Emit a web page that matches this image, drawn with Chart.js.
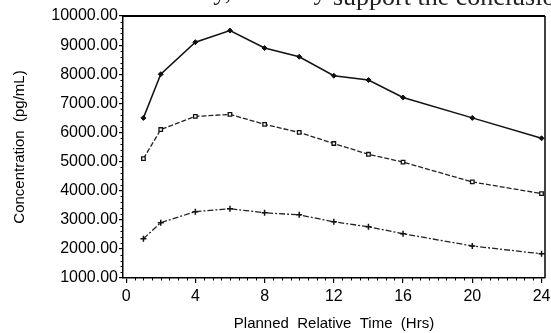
<!DOCTYPE html>
<html>
<head>
<meta charset="utf-8">
<script src="https://cdn.jsdelivr.net/npm/chart.js@4"></script>
<style>
  html, body { margin: 0; padding: 0; background: #fff; }
  #c { display: block; }
</style>
</head>
<body>
<canvas id="c" width="551" height="333"></canvas>
<script>
// ---- data ----
const timesHrs = [1, 2, 4, 6, 8, 10, 12, 14, 16, 20, 24];
const highSeries = [6500, 8000, 9100, 9500, 8900, 8600, 7950, 7800, 7200, 6500, 5800];
const midSeries  = [5100, 6100, 6550, 6620, 6280, 6000, 5620, 5250, 4980, 4300, 3900];
const lowSeries  = [2350, 2900, 3280, 3380, 3240, 3170, 2930, 2760, 2520, 2100, 1830];
const xTickValues = [0, 4, 8, 12, 16, 20, 24];
const yTickValues = [1000, 2000, 3000, 4000, 5000, 6000, 7000, 8000, 9000, 10000];
const xTitle = 'Planned  Relative  Time  (Hrs)';
const yTitle = 'Concentration  (pg/mL)';
const topTextLeft = 'Similarly, this may ';
const topTextRight = 'support the conclusion';

function pts(ys) { return timesHrs.map((t, i) => ({ x: t, y: ys[i] })); }

const FONT = '"Liberation Sans", Arial, Helvetica, sans-serif';

const framePlugin = {
  id: 'frame',
  beforeDraw(chart) {
    const ctx = chart.ctx;
    ctx.save();
    ctx.fillStyle = '#fff';
    ctx.fillRect(0, 0, chart.width, chart.height);
    ctx.fillStyle = '#222';
    ctx.textBaseline = 'alphabetic';
    ctx.font = '26px "Liberation Serif", "Times New Roman", serif';
    ctx.textAlign = 'right';
    ctx.fillText(topTextLeft, 333, 0);
    ctx.textAlign = 'left';
    ctx.fillText(topTextRight, 333, 5);
    ctx.restore();
  },
  afterDraw(chart) {
    const ctx = chart.ctx;
    const a = chart.chartArea;
    const xs = chart.scales.x, ys = chart.scales.y;
    ctx.save();
    ctx.strokeStyle = '#000';
    // top and right frame
    ctx.lineWidth = 2;
    ctx.beginPath();
    ctx.moveTo(a.left, a.top);
    ctx.lineTo(a.right, a.top);
    ctx.stroke();
    ctx.lineWidth = 1.5;
    ctx.beginPath();
    ctx.moveTo(a.right, a.top);
    ctx.lineTo(a.right, a.bottom);
    ctx.stroke();
    // minor ticks
    ctx.lineWidth = 1;
    ctx.beginPath();
    for (let v = 1000; v <= 10000; v += 200) {
      if (v % 1000 === 0) continue;
      const py = Math.round(ys.getPixelForValue(v)) + 0.5;
      ctx.moveTo(a.left - 2.5, py);
      ctx.lineTo(a.left, py);
    }
    for (let v = 0; v <= 24; v += 0.5) {
      if (v % 4 === 0) continue;
      const px = Math.round(xs.getPixelForValue(v)) + 0.5;
      ctx.moveTo(px, a.bottom);
      ctx.lineTo(px, a.bottom + 2.5);
    }
    ctx.stroke();
    ctx.restore();
  }
};

new Chart(document.getElementById('c'), {
  type: 'line',
  data: {
    datasets: [
      {
        data: pts(highSeries),
        borderColor: '#111', borderWidth: 1.5,
        pointStyle: 'rectRot', pointRadius: 2.5,
        pointBackgroundColor: '#111', pointBorderColor: '#111', pointBorderWidth: 1,
        tension: 0, fill: false
      },
      {
        data: pts(midSeries),
        borderColor: '#222', borderWidth: 1.3, borderDash: [5, 2],
        pointStyle: 'rect', pointRadius: 2.5,
        pointBackgroundColor: '#fff', pointBorderColor: '#111', pointBorderWidth: 1.3,
        tension: 0, fill: false
      },
      {
        data: pts(lowSeries),
        borderColor: '#222', borderWidth: 1.3, borderDash: [6, 2, 2, 2],
        pointStyle: 'cross', pointRadius: 3,
        pointBackgroundColor: '#111', pointBorderColor: '#111', pointBorderWidth: 1.5,
        tension: 0, fill: false
      }
    ]
  },
  options: {
    responsive: false,
    animation: false,
    events: [],
    layout: { padding: { top: 16, right: 6, left: 0, bottom: 0 } },
    plugins: { legend: { display: false }, tooltip: { enabled: false } },
    scales: {
      x: {
        type: 'linear',
        min: -0.18, max: 24.2,
        afterBuildTicks: s => { s.ticks = xTickValues.map(v => ({ value: v })); },
        afterFit: s => { s.height = 55; s.paddingLeft = 0; s.paddingRight = 0; },
        ticks: {
          callback: v => String(v),
          font: { family: FONT, size: 16 }, color: '#000',
          padding: 4, maxRotation: 0, autoSkip: false
        },
        grid: { drawOnChartArea: false, drawTicks: true, tickLength: 5, color: '#000', lineWidth: 1.2 },
        border: { display: true, color: '#000', width: 1.5 },
        title: {
          display: true, text: xTitle, color: '#000',
          font: { family: FONT, size: 15 }, padding: { top: 0, bottom: 0 }
        }
      },
      y: {
        type: 'linear',
        min: 1000, max: 10000,
        afterBuildTicks: s => { s.ticks = yTickValues.map(v => ({ value: v })); },
        afterFit: s => { s.width = 123; },
        ticks: {
          callback: v => Number(v).toFixed(2),
          font: { family: FONT, size: 16 }, color: '#000',
          padding: 1, autoSkip: false
        },
        grid: { drawOnChartArea: false, drawTicks: true, tickLength: 4, color: '#000', lineWidth: 1.2 },
        border: { display: true, color: '#000', width: 1.5 },
        title: {
          display: true, text: yTitle, color: '#000',
          font: { family: FONT, size: 15 }, padding: { top: 11, bottom: 0 }
        }
      }
    }
  },
  plugins: [framePlugin]
});
</script>
</body>
</html>
